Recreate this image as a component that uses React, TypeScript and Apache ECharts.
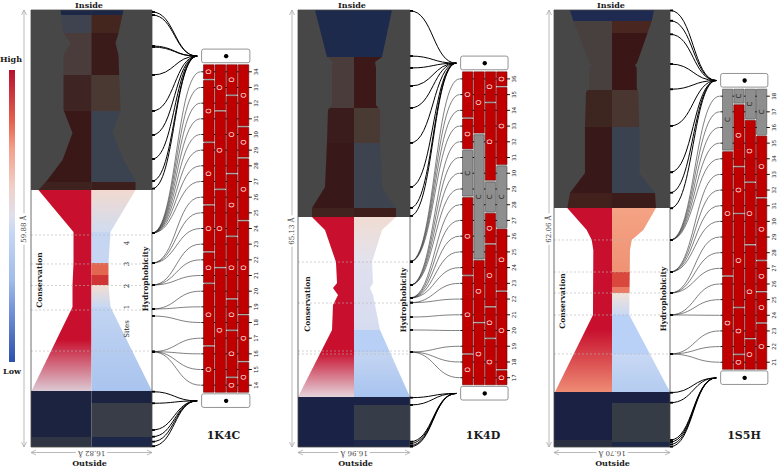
import { useEffect, useRef } from 'react';
import * as echarts from 'echarts';

// ---------------- panel-level values ----------------
const PANEL_NAMES = ['1K4C', '1K4D', '1S5H'];
const PORE_LENGTH = [59.88, 65.13, 62.06]; // Å (inside -> outside)
const PORE_WIDTH = [16.82, 16.96, 16.7]; // Å
const GRAY_BOTTOM = [35.22, 34.28, 33.94]; // depth (Å) where the shaded inner part ends
const RESIDUE_TOP = [34, 36, 38];
const RESIDUE_BOTTOM = [14, 17, 21];

// ---------------- pore outlines: [depth Å, left radius Å, right radius Å] ----------------
const OUTLINE_1K4C = [
  [59.88, 4.31, 4.45], [56.73, 3.89, 3.75], [55.36, 2.92, 3.34], [53.71, 3.89, 3.75],
  [46.18, 3.89, 4.03], [43.03, 2.64, 2.92], [39.33, 4.03, 4.45], [36.59, 6.12, 6.12],
  [35.22, 7.37, 6.12], [29.46, 2.5, 2.64], [25.21, 2.5, 2.36], [22.2, 2.64, 2.36],
  [19.18, 2.64, 2.64], [7.67, 8.34, 8.41],
];
const OUTLINE_1K4D = [
  [65.13, 5.91, 5.75], [58.13, 4.09, 4.24], [57.38, 3.18, 3.18], [56.49, 3.33, 3.33],
  [50.97, 3.33, 3.33], [50.23, 3.94, 3.94], [45.31, 4.09, 3.94], [38.75, 4.39, 4.24],
  [36.81, 5.6, 5.45], [35.62, 6.36, 6.36], [34.28, 6.36, 6.36], [32.34, 4.39, 4.24],
  [27.57, 2.73, 2.73], [24.44, 2.57, 2.88], [23.7, 3.18, 2.42], [22.65, 2.42, 2.88],
  [21.16, 3.18, 3.18], [17.44, 3.33, 3.94], [7.45, 8.48, 8.48],
];
const OUTLINE_1S5H = [
  [62.06, 6.05, 6.05], [60.5, 5.57, 5.72], [54.53, 3.17, 3.6], [54.25, 2.88, 3.31],
  [53.82, 3.27, 3.56], [50.98, 3.27, 3.56], [50.41, 3.74, 3.79], [45.44, 3.89, 3.93],
  [38.91, 3.89, 3.93], [36.07, 6.05, 6.19], [33.94, 6.44, 6.33], [30.82, 3.64, 4.51],
  [29.4, 2.92, 2.84], [27.98, 2.69, 2.59], [18.75, 2.74, 2.49], [7.81, 8.21, 8.35],
];

// ---------------- colour bands: [top Å, bottom Å, colour, (gradient end colour)] ----------------
const CONS_1K4C = [
  [59.88, 59.19, '#1c2645'], [59.19, 56.73, '#3e434f'], [56.73, 50.97, '#4a3c3a'],
  [50.97, 46.04, '#3f2424'], [46.04, 36.31, '#3a1818'], [36.31, 35.22, '#3e2220'],
  [35.22, 14.66, '#c8102e'], [14.66, 7.67, '#c8102e', '#dccad4'],
];
const HYDRO_1K4C = [
  [59.88, 59.19, '#1c2645'], [59.19, 56.73, '#45261f'], [56.73, 50.97, '#3b1a1a'],
  [50.97, 46.04, '#4a3832'], [46.04, 36.31, '#3c4350'], [36.31, 35.22, '#3c1e1c'],
  [35.22, 29.46, '#f2d9cf', '#d0dcf0'], [29.46, 25.21, '#c6d6f2'], [25.21, 23.57, '#e26650'],
  [23.57, 22.2, '#cf3535'], [22.2, 19.18, '#f3ddd0', '#c8d8f4'], [19.18, 7.67, '#c2d4f2', '#a9c4ee'],
];
const CONS_1K4D = [
  [65.13, 58.13, '#1e2a4c'], [58.13, 50.53, '#4a3c3a'], [50.53, 45.31, '#3b1c1c'],
  [45.31, 35.62, '#381818'], [35.62, 34.28, '#40221e'], [34.28, 14.16, '#c8102e'],
  [14.16, 7.45, '#c8102e', '#e4d4dc'],
];
const HYDRO_1K4D = [
  [65.13, 58.13, '#1c2a4e'], [58.13, 50.53, '#3d1818'], [50.53, 45.31, '#4a3a34'],
  [45.31, 35.62, '#3d4450'], [35.62, 34.28, '#3e1e1a'], [34.28, 27.57, '#f0dcd2', '#e2e2ee'],
  [27.57, 17.44, '#e0e0ee', '#d6dcf0'], [17.44, 14.16, '#b8cff6'], [14.16, 7.45, '#c4d5f2', '#a8c4f0'],
];
const CONS_1S5H = [
  [62.06, 60.5, '#1e2a50'], [60.5, 50.7, '#48403e'], [50.7, 45.44, '#3e2620'],
  [45.44, 36.07, '#381818'], [36.07, 33.94, '#42201c'], [33.94, 16.62, '#c8102e'],
  [16.62, 7.81, '#c8102e', '#ee8c74'],
];
const HYDRO_1S5H = [
  [62.06, 60.5, '#1e2a50'], [60.5, 58.79, '#4a2620'], [58.79, 50.7, '#3a1616'],
  [50.7, 45.44, '#4a3630'], [45.44, 36.07, '#3a4250'], [36.07, 33.94, '#3c1c1a'],
  [33.94, 24.85, '#f4a384', '#f09274'], [24.85, 22.72, '#d9473d'], [22.72, 21.87, '#e87a66'],
  [21.87, 18.75, '#f2e2d8', '#c8d8f4'], [18.75, 13.21, '#b9d0f7'], [13.21, 7.81, '#c8d8f4', '#b4ccf0'],
];

// outer (bottom) region, full half-width: [top Å, bottom Å, colour]
const OUTER_L_1K4C = [[7.67, 1.37, '#1b2341'], [1.37, 0, '#2f3542']];
const OUTER_R_1K4C = [[7.67, 6.03, '#1b2341'], [6.03, 1.37, '#383d48'], [1.37, 0, '#1d2747']];
const OUTER_L_1K4D = [[7.45, 0, '#1a2245']];
const OUTER_R_1K4D = [[7.45, 6.26, '#1a2245'], [6.26, 1.04, '#363c48'], [1.04, 0, '#1d2747']];
const OUTER_L_1S5H = [[7.81, 0.99, '#1a2142'], [0.99, 0, '#2a3040']];
const OUTER_R_1S5H = [[7.81, 6.25, '#1a2142'], [6.25, 0.71, '#363c46'], [0.71, 0, '#1d2747']];

// dashed site boundaries (depth Å)
const DASH_1K4C = [29.05, 25.08, 22.13, 18.77, 13.15];
const DASH_1K4D = [27.57, 21.46, 14.31, 13.86];
const DASH_1S5H = [29.4, 24.85, 21.87, 18.75, 13.21];

// ---------------- residue blocks: [column, top residue, bottom residue, type] ----------------
const BLOCKS_1K4C = [
  [0, 34, 34, 'O'], [0, 33, 30, 'O'], [0, 29, 26, 'O'], [0, 25, 23, 'O'], [0, 22, 21, 'O'], [0, 20, 17, 'O'], [0, 16, 14, 'O'],
  [1, 34, 32, 'O'], [1, 31, 27, 'O'], [1, 26, 22, 'O'], [1, 21, 14, 'O'],
  [2, 34, 33, 'O'], [2, 32, 28, 'O'], [2, 27, 24, 'O'], [2, 23, 20, 'O'], [2, 19, 18, 'O'], [2, 17, 15, 'O'], [2, 14, 14, 'O'],
  [3, 34, 31, 'O'], [3, 30, 29, 'O'], [3, 28, 25, 'O'], [3, 24, 19, 'O'], [3, 18, 16, 'O'], [3, 15, 14, 'O'],
];
const BLOCKS_1K4D = [
  [0, 36, 34, 'O'], [0, 33, 32, 'O'], [0, 31, 29, 'C'], [0, 28, 24, 'O'], [0, 23, 19, 'O'], [0, 18, 17, 'O'],
  [1, 36, 33, 'O'], [1, 32, 25, 'C'], [1, 24, 21, 'O'], [1, 20, 17, 'O'],
  [2, 36, 35, 'O'], [2, 34, 30, 'O'], [2, 29, 28, 'C'], [2, 27, 26, 'O'], [2, 25, 22, 'O'], [2, 21, 20, 'O'], [2, 19, 17, 'O'],
  [3, 36, 36, 'O'], [3, 35, 31, 'O'], [3, 30, 27, 'C'], [3, 26, 23, 'O'], [3, 22, 18, 'O'], [3, 17, 17, 'O'],
];
const BLOCKS_1S5H = [
  [0, 38, 35, 'C'], [0, 34, 27, 'O'], [0, 26, 21, 'O'],
  [1, 38, 38, 'C'], [1, 37, 34, 'O'], [1, 33, 31, 'O'], [1, 30, 25, 'O'], [1, 24, 22, 'O'], [1, 21, 21, 'O'],
  [2, 38, 37, 'C'], [2, 36, 33, 'O'], [2, 32, 29, 'O'], [2, 28, 23, 'O'], [2, 22, 21, 'O'],
  [3, 38, 36, 'C'], [3, 35, 32, 'O'], [3, 31, 28, 'O'], [3, 27, 26, 'O'], [3, 25, 24, 'O'], [3, 23, 21, 'O'],
];

// ---------------- connections (depth Å on pore profile) ----------------
const CAP_TOP_1K4C = [59.61, 59.19, 54.95, 54.81, 50.97, 46.04, 42.75, 39.46, 36.45, 35.4];
const CAP_BOTTOM_1K4C = [7.58, 5.99, 2.33, 1.41, 0.73, 0.1];
const ROW_DEPTH_1K4C = [29.32, 29.32, 29.32, 29.32, 29.32, 29.32, 29.32, 29.32, 25.21, 25.21, 25.21,
  22.2, 22.2, 22.2, 18.91, 18.91, 17.95, 13.06, 13.06, 13.06, 13.06];
const CAP_TOP_1K4D = [65.0, 58.27, 56.49, 53.8, 50.52, 45.31, 38.75, 35.62, 34.43];
const CAP_BOTTOM_1K4D = [7.35, 6.26, 0.79, 0.52, 0.22, 0.05];
const ROW_DEPTH_1K4D = [27.62, 27.62, 27.62, 27.62, 24.14, 24.14, 24.14, 24.14, 22.21, 22.21, 22.21,
  22.21, 22.21, 21.51, 21.51, 19.37, 17.44, 14.16, 14.16, 14.16];
const CAP_TOP_1S5H = [62.0, 60.54, 58.61, 54.39, 50.8, 45.59, 39.01, 36.11, 33.9];
const CAP_BOTTOM_1S5H = [7.71, 6.29, 0.99, 0.71, 0.36, 0.04];
const ROW_DEPTH_1S5H = [29.4, 29.4, 29.4, 29.4, 29.4, 24.85, 24.85, 24.85, 24.85, 21.87, 21.87, 21.87,
  18.75, 18.75, 18.75, 13.21, 13.21, 13.21];

// colour scale (legend)
const SCALE_COLORS = ['#b8102e', '#e46450', '#f4a08a', '#f0d0c8', '#dfe0ec', '#c8d8f4', '#a0bce8', '#7090d8', '#2c50ac'];
const SCALE_STOPS = [0, 0.18, 0.27, 0.4, 0.5, 0.55, 0.72, 0.83, 1];

// ---------------- layout (pixels) ----------------
const PROFILE_GRID = [
  { left: 31, top: 10, width: 121, height: 437 },
  { left: 298, top: 10, width: 112, height: 437 },
  { left: 554, top: 10, width: 116, height: 437 },
];
const BLOCK_GRID = [
  { left: 203, top: 48.3, width: 46.3, height: 360.4 },
  { left: 462, top: 55.3, width: 45.5, height: 346 },
  { left: 722, top: 72.7, width: 45.3, height: 313 },
];

const OUTLINES = [OUTLINE_1K4C, OUTLINE_1K4D, OUTLINE_1S5H];
const CONS = [CONS_1K4C, CONS_1K4D, CONS_1S5H];
const HYDRO = [HYDRO_1K4C, HYDRO_1K4D, HYDRO_1S5H];
const OUTER_L = [OUTER_L_1K4C, OUTER_L_1K4D, OUTER_L_1S5H];
const OUTER_R = [OUTER_R_1K4C, OUTER_R_1K4D, OUTER_R_1S5H];
const DASHES = [DASH_1K4C, DASH_1K4D, DASH_1S5H];
const BLOCKS = [BLOCKS_1K4C, BLOCKS_1K4D, BLOCKS_1S5H];
const CAP_TOP = [CAP_TOP_1K4C, CAP_TOP_1K4D, CAP_TOP_1S5H];
const CAP_BOTTOM = [CAP_BOTTOM_1K4C, CAP_BOTTOM_1K4D, CAP_BOTTOM_1S5H];
const ROW_DEPTH = [ROW_DEPTH_1K4C, ROW_DEPTH_1K4D, ROW_DEPTH_1S5H];

const SERIF = '"DejaVu Serif", serif';

function paint(c0: string, c1?: string): any {
  if (!c1) return c0;
  return new echarts.graphic.LinearGradient(0, 0, 0, 1, [
    { offset: 0, color: c0 },
    { offset: 1, color: c1 },
  ]);
}

function radiusAt(outline: number[][], d: number, idx: number) {
  for (let i = 0; i < outline.length - 1; i++) {
    const a = outline[i], b = outline[i + 1];
    if (d <= a[0] && d >= b[0]) {
      const t = (a[0] - d) / (a[0] - b[0] || 1);
      return a[idx] + (b[idx] - a[idx]) * t;
    }
  }
  return d > outline[0][0] ? outline[0][idx] : outline[outline.length - 1][idx];
}

function bandPoints(outline: number[][], side: number, top: number, bottom: number) {
  const idx = side < 0 ? 1 : 2;
  const pts: number[][] = [[0, top], [side * radiusAt(outline, top, idx), top]];
  outline.forEach((n) => {
    if (n[0] < top && n[0] > bottom) pts.push([side * n[idx], n[0]]);
  });
  pts.push([side * radiusAt(outline, bottom, idx), bottom]);
  pts.push([0, bottom]);
  return pts;
}

function profileItems(p: number) {
  const L = PORE_LENGTH[p];
  const H = PORE_WIDTH[p] / 2;
  const items: any[] = [];
  items.push({ kind: 'rect', x0: -H, x1: H, top: L, bottom: GRAY_BOTTOM[p], c0: '#474747' });
  CONS[p].forEach((b: any) => items.push({ kind: 'band', side: -1, top: b[0], bottom: b[1], c0: b[2], c1: b[3] }));
  HYDRO[p].forEach((b: any) => items.push({ kind: 'band', side: 1, top: b[0], bottom: b[1], c0: b[2], c1: b[3] }));
  OUTER_L[p].forEach((b: any) => items.push({ kind: 'rect', x0: -H, x1: 0, top: b[0], bottom: b[1], c0: b[2] }));
  OUTER_R[p].forEach((b: any) => items.push({ kind: 'rect', x0: 0, x1: H, top: b[0], bottom: b[1], c0: b[2] }));
  DASHES[p].forEach((d) => items.push({ kind: 'dash', x0: -H, x1: H, top: d }));
  items.push({ kind: 'frame', x0: -H, x1: H, top: L, bottom: 0 });
  return items;
}

function buildOption() {
  const grid: any[] = [];
  const xAxis: any[] = [];
  const yAxis: any[] = [];
  const series: any[] = [];
  for (let p = 0; p < 3; p++) {
    grid.push({ ...PROFILE_GRID[p] });
    xAxis.push({ type: 'value', gridIndex: p, min: -PORE_WIDTH[p] / 2, max: PORE_WIDTH[p] / 2, show: false });
    yAxis.push({ type: 'value', gridIndex: p, min: 0, max: PORE_LENGTH[p], show: false });
  }
  for (let p = 0; p < 3; p++) {
    grid.push({ ...BLOCK_GRID[p] });
    xAxis.push({ type: 'value', gridIndex: 3 + p, min: 0, max: 4, show: false });
    yAxis.push({ type: 'value', gridIndex: 3 + p, min: RESIDUE_BOTTOM[p] - 1.5, max: RESIDUE_TOP[p] + 1.5, show: false });
  }

  for (let p = 0; p < 3; p++) {
    const items = profileItems(p);
    const outline = OUTLINES[p];
    series.push({
      type: 'custom',
      xAxisIndex: p,
      yAxisIndex: p,
      silent: true,
      data: items.map((_, i) => [0, 0, i]),
      renderItem: (params: any, api: any) => {
        const it = items[params.dataIndex];
        const c = (x: number, y: number) => api.coord([x, y]);
        if (it.kind === 'rect') {
          const a = c(it.x0, it.top), b = c(it.x1, it.bottom);
          return { type: 'rect', shape: { x: a[0], y: a[1], width: b[0] - a[0], height: b[1] - a[1] }, style: { fill: paint(it.c0, it.c1) } };
        }
        if (it.kind === 'band') {
          const pts = bandPoints(outline, it.side, it.top, it.bottom).map((q) => c(q[0], q[1]));
          return { type: 'polygon', shape: { points: pts }, style: { fill: paint(it.c0, it.c1) } };
        }
        if (it.kind === 'dash') {
          const a = c(it.x0, it.top), b = c(it.x1, it.top);
          return { type: 'line', shape: { x1: a[0], y1: a[1], x2: b[0], y2: b[1] }, style: { stroke: '#b4b4b4', lineWidth: 0.7, lineDash: [2, 2], opacity: 0.85 } };
        }
        const a = c(it.x0, it.top), b = c(it.x1, it.bottom);
        return { type: 'rect', shape: { x: a[0], y: a[1], width: b[0] - a[0], height: b[1] - a[1] }, style: { fill: 'none', stroke: '#4a4a4a', lineWidth: 0.8 } };
      },
    });

    const blocks = BLOCKS[p];
    const rowMin = RESIDUE_BOTTOM[p];
    series.push({
      type: 'custom',
      xAxisIndex: 3 + p,
      yAxisIndex: 3 + p,
      silent: true,
      data: blocks.map((s: any) => [s[0], s[1], s[2]]),
      renderItem: (params: any, api: any) => {
        const s: any = blocks[params.dataIndex];
        const col = s[0], top = s[1], bot = s[2], kind = s[3];
        const a = api.coord([col + 0.045, top + 0.5]);
        const b = api.coord([col + 0.955, bot - 0.5]);
        const y0 = a[1] + 0.8, y1 = b[1] - 0.8;
        const isO = kind === 'O';
        const children: any[] = [
          { type: 'rect', shape: { x: a[0], y: y0, width: b[0] - a[0], height: y1 - y0 }, style: { fill: isO ? '#c00000' : '#8e8e8e', stroke: isO ? '#6e0000' : '#4e4e4e', lineWidth: 0.6 } },
          { type: 'text', x: (a[0] + b[0]) / 2, y: (y0 + y1) / 2, rotation: Math.PI / 2, style: { text: kind, fill: isO ? '#ffffff' : '#222222', font: '7px "DejaVu Sans"', align: 'center', verticalAlign: 'middle' } },
        ];
        if (bot > rowMin) {
          children.push({ type: 'line', shape: { x1: a[0] + 0.5, y1: b[1], x2: b[0] - 0.5, y2: b[1] }, style: { stroke: '#a8a8a8', lineWidth: 1.1 } });
        }
        return { type: 'group', children };
      },
    });

    const rows: number[] = [];
    for (let r = RESIDUE_TOP[p]; r >= RESIDUE_BOTTOM[p]; r--) rows.push(r);
    series.push({
      type: 'custom',
      xAxisIndex: 3 + p,
      yAxisIndex: 3 + p,
      silent: true,
      data: rows.map((r) => [4, r]),
      renderItem: (params: any, api: any) => {
        const r = rows[params.dataIndex];
        const children: any[] = [];
        [0, 1, 2, 3, 4].forEach((bx) => {
          const a = api.coord([bx - (bx === 0 ? 0.15 : 0.07), r]), b = api.coord([bx + (bx === 4 ? 0.22 : 0.07), r]);
          children.push({ type: 'line', shape: { x1: a[0], y1: a[1], x2: b[0], y2: b[1] }, style: { stroke: '#111', lineWidth: 1 } });
        });
        const t = api.coord([4.55, r]);
        children.push({ type: 'text', x: t[0], y: t[1], rotation: Math.PI / 2, style: { text: String(r), fill: '#222', font: '5.5px "DejaVu Sans"', align: 'center', verticalAlign: 'middle' } });
        return { type: 'group', children };
      },
    });

    const capRows = [RESIDUE_TOP[p] + 1, RESIDUE_BOTTOM[p] - 1];
    series.push({
      type: 'custom',
      xAxisIndex: 3 + p,
      yAxisIndex: 3 + p,
      silent: true,
      data: capRows.map((r) => [2, r]),
      renderItem: (params: any, api: any) => {
        const r = capRows[params.dataIndex];
        const a = api.coord([-0.12, r + 0.45]);
        const b = api.coord([4.05, r - 0.42]);
        const m = api.coord([2, r]);
        return {
          type: 'group',
          children: [
            { type: 'rect', shape: { x: a[0], y: a[1], width: b[0] - a[0], height: b[1] - a[1], r: 2 }, style: { fill: '#fff', stroke: '#777', lineWidth: 0.8 } },
            { type: 'circle', shape: { cx: m[0], cy: m[1], r: 2.2 }, style: { fill: '#000' } },
          ],
        };
      },
    });
  }

  return { animation: false, backgroundColor: '#fff', grid, xAxis, yAxis, series };
}

function txt(text: string, x: number, y: number, font: string, rotation = 0, extra: any = {}) {
  return {
    type: 'text', x, y, rotation, z: 100,
    style: { text, font, fill: '#1a1a1a', align: 'center', verticalAlign: 'middle', textAlign: 'center', textVerticalAlign: 'middle', ...extra },
  };
}

function buildGraphic(chart: any) {
  const g: any[] = [];
  // colour scale
  g.push({
    type: 'rect', z: 100, shape: { x: 9, y: 70, width: 6, height: 292 },
    style: { fill: new echarts.graphic.LinearGradient(0, 0, 0, 1, SCALE_STOPS.map((o, i) => ({ offset: o, color: SCALE_COLORS[i] }))) },
  });
  g.push(txt('High', 11, 59, `bold 8px ${SERIF}`));
  g.push(txt('Low', 12, 371, `bold 8px ${SERIF}`));

  const dimX = [24, 292, 549];
  const dimLabelY = [229, 231, 229];
  const insideX = [89, 352, 611];
  const outsideX = [89.5, 355.5, 612.5];
  const titleX = [223.5, 483, 744];
  const consPos = [[39, 280], [307, 304], [562, 301]];
  const hydroPos = [[145, 279], [403, 300], [663, 299]];

  for (let p = 0; p < 3; p++) {
    const G = PROFILE_GRID[p];
    const xl = G.left, xr = G.left + G.width, yt = G.top, yb = G.top + G.height;
    const dx = dimX[p];
    const grey = '#a8a8a8';
    g.push({ type: 'line', z: 90, shape: { x1: dx, y1: yt, x2: dx, y2: yb }, style: { stroke: grey, lineWidth: 0.8 } });
    g.push({ type: 'polyline', z: 90, shape: { points: [[dx - 2.5, yt + 5], [dx, yt], [dx + 2.5, yt + 5]] }, style: { stroke: grey, lineWidth: 0.8, fill: 'none' } });
    g.push({ type: 'polyline', z: 90, shape: { points: [[dx - 2.5, yb - 5], [dx, yb], [dx + 2.5, yb - 5]] }, style: { stroke: grey, lineWidth: 0.8, fill: 'none' } });
    g.push(txt(`${PORE_LENGTH[p].toFixed(2)} Å`, dx, dimLabelY[p], `7px ${SERIF}`, Math.PI / 2, { backgroundColor: '#fff', padding: [0, 2], fill: '#444' }));

    const hy = 452.5;
    g.push({ type: 'line', z: 90, shape: { x1: xl, y1: hy, x2: xr, y2: hy }, style: { stroke: grey, lineWidth: 0.8 } });
    g.push({ type: 'polyline', z: 90, shape: { points: [[xl + 5, hy - 2.5], [xl, hy], [xl + 5, hy + 2.5]] }, style: { stroke: grey, lineWidth: 0.8, fill: 'none' } });
    g.push({ type: 'polyline', z: 90, shape: { points: [[xr - 5, hy - 2.5], [xr, hy], [xr - 5, hy + 2.5]] }, style: { stroke: grey, lineWidth: 0.8, fill: 'none' } });
    g.push(txt(`${PORE_WIDTH[p].toFixed(2)} Å`, (xl + xr) / 2, hy, `7px ${SERIF}`, Math.PI, { backgroundColor: '#fff', padding: [0, 2], fill: '#444' }));

    g.push(txt('Inside', insideX[p], 5, `bold 8px ${SERIF}`));
    g.push(txt('Outside', outsideX[p], 463, `bold 8px ${SERIF}`));
    g.push(txt(PANEL_NAMES[p], titleX[p], 435, `bold 11px ${SERIF}`));
    g.push(txt('Conservation', consPos[p][0], consPos[p][1], `bold 7.5px ${SERIF}`, Math.PI / 2));
    g.push(txt('Hydrophobicity', hydroPos[p][0], hydroPos[p][1], `bold 7.5px ${SERIF}`, Math.PI / 2));

    // connections
    const W = PORE_WIDTH[p] / 2;
    const toP = (d: number) => chart.convertToPixel({ gridIndex: p }, [W, d]);
    const toB = (x: number, r: number) => chart.convertToPixel({ gridIndex: 3 + p }, [x, r]);
    const curve = (s: number[], e: number[], w: number, color: string) => {
      const k = (e[0] - s[0]) * 0.5;
      g.push({
        type: 'bezierCurve', z: 80,
        shape: { x1: s[0], y1: s[1], cpx1: s[0] + k, cpy1: s[1], cpx2: e[0] - k, cpy2: e[1], x2: e[0], y2: e[1] },
        style: { stroke: color, lineWidth: w, fill: 'none' },
      });
      g.push({ type: 'rect', z: 81, shape: { x: s[0], y: s[1] - 0.9, width: 3, height: 1.8 }, style: { fill: '#000' } });
    };
    CAP_TOP[p].forEach((d) => curve(toP(d), toB(-0.5, RESIDUE_TOP[p] + 1), 1.0, '#000'));
    CAP_BOTTOM[p].forEach((d) => curve(toP(d), toB(-0.5, RESIDUE_BOTTOM[p] - 1), 1.0, '#000'));
    ROW_DEPTH[p].forEach((d, i) => curve(toP(d), toB(-0.2, RESIDUE_TOP[p] - i), 0.6, '#2a2a2a'));
  }

  // site labels (1K4C)
  g.push(txt('Sites', 127, 329, `7px ${SERIF}`, Math.PI / 2));
  g.push(txt('1', 127, 307, `7px ${SERIF}`, Math.PI / 2));
  g.push(txt('2', 127, 286, `7px ${SERIF}`, Math.PI / 2));
  g.push(txt('3', 127, 264, `7px ${SERIF}`, Math.PI / 2));
  g.push(txt('4', 127, 243, `7px ${SERIF}`, Math.PI / 2));
  return g;
}

export default function App() {
  const ref = useRef<HTMLDivElement>(null);
  useEffect(() => {
    const chart = echarts.init(ref.current as HTMLDivElement, null, { renderer: 'svg' });
    chart.setOption(buildOption());
    chart.setOption({ graphic: buildGraphic(chart) });
    return () => chart.dispose();
  }, []);
  return <div ref={ref} style={{ position: 'fixed', left: 0, top: 0, width: 777, height: 468, background: '#fff' }} />;
}
